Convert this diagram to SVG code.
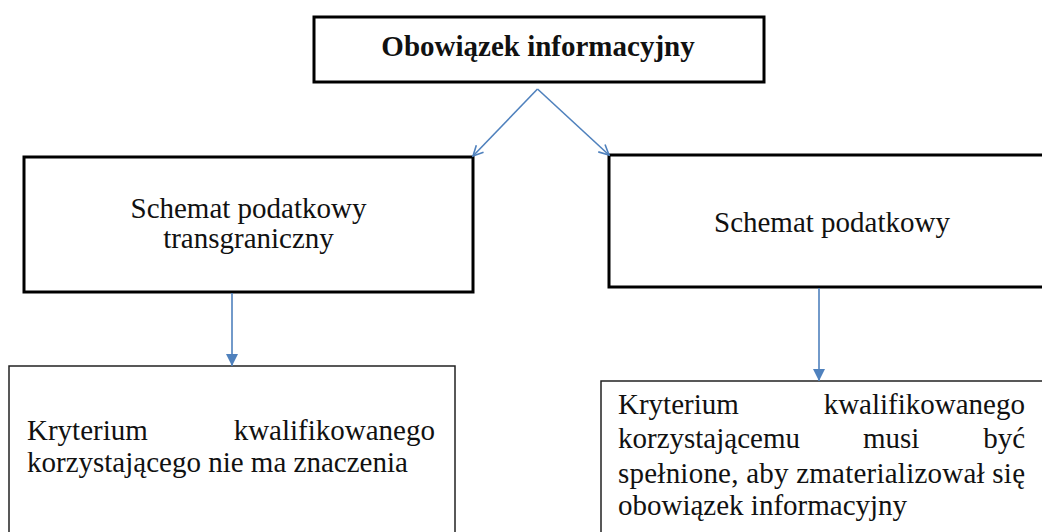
<svg xmlns="http://www.w3.org/2000/svg" width="1042" height="532" viewBox="0 0 1042 532">
<style>
.bx{fill:#fff;stroke:#000;stroke-width:3}
.bt{fill:#fff;stroke:#222;stroke-width:1.5}
.t{font-family:"Liberation Serif","Times New Roman",serif;font-size:29px;fill:#111}
.b{font-weight:bold}
.c{stroke:#4f81bd;stroke-width:1.6;fill:none}
</style>
<defs>
<marker id="open" viewBox="0 0 12 12" refX="11" refY="6" markerWidth="12" markerHeight="12" markerUnits="userSpaceOnUse" orient="auto">
<path d="M1,1 L11,6 L1,11" fill="none" stroke="#4f81bd" stroke-width="1.6"/>
</marker>
<marker id="fill" viewBox="0 0 12 12" refX="12" refY="6" markerWidth="12" markerHeight="12" markerUnits="userSpaceOnUse" orient="auto">
<path d="M0,0 L12,6 L0,12 Z" fill="#4f81bd"/>
</marker>
</defs>
<rect width="1042" height="532" fill="#fff"/>
<g id="top">
<rect class="bx" x="314" y="17" width="450" height="65"/>
<text class="t b" x="538" y="56" text-anchor="middle">Obowiązek informacyjny</text>
</g>
<g id="left-mid">
<rect class="bx" x="24" y="157" width="449" height="135"/>
<text class="t" x="248.5" y="218" text-anchor="middle">Schemat podatkowy</text>
<text class="t" x="248.5" y="248" text-anchor="middle">transgraniczny</text>
</g>
<g id="right-mid">
<rect class="bx" x="609" y="155" width="460" height="132"/>
<text class="t" x="832" y="232" text-anchor="middle">Schemat podatkowy</text>
</g>
<g id="left-bottom">
<rect class="bt" x="9" y="366" width="446" height="180"/>
<text class="t" x="27" y="440">Kryterium</text>
<text class="t" x="435" y="440" text-anchor="end">kwalifikowanego</text>
<text class="t" x="27" y="472">korzystającego nie ma znaczenia</text>
</g>
<g id="right-bottom">
<rect class="bt" x="601" y="381" width="460" height="165"/>
<text class="t" x="618" y="414">Kryterium</text>
<text class="t" x="1025" y="414" text-anchor="end">kwalifikowanego</text>
<text class="t" x="618" y="448">korzystającemu</text>
<text class="t" x="863" y="448">musi</text>
<text class="t" x="1025" y="448" text-anchor="end">być</text>
<text class="t" x="618" y="483" textLength="407" lengthAdjust="spacing">spełnione, aby zmaterializował się</text>
<text class="t" x="618" y="515">obowiązek informacyjny</text>
</g>
<g id="connectors">
<line class="c" x1="537.5" y1="89" x2="473" y2="156" marker-end="url(#open)"/>
<line class="c" x1="537.5" y1="89" x2="609" y2="155" marker-end="url(#open)"/>
<line class="c" x1="232" y1="293" x2="232" y2="366" marker-end="url(#fill)"/>
<line class="c" x1="819" y1="288" x2="819" y2="381" marker-end="url(#fill)"/>
</g>
</svg>
